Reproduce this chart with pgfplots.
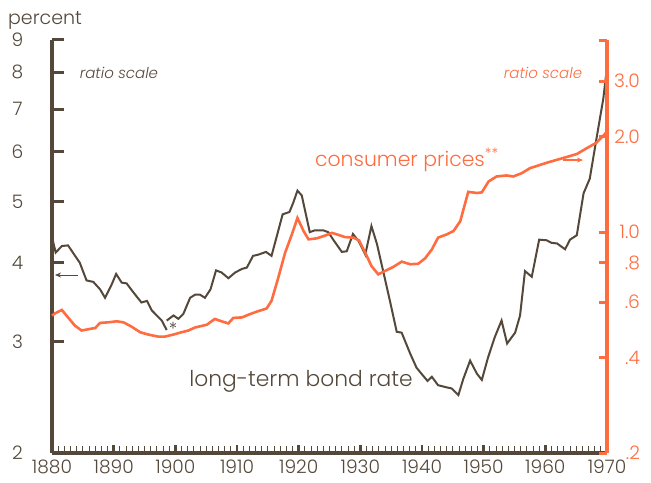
\documentclass[border=0pt]{standalone}
\usepackage{pgfplots}
\pgfplotsset{compat=1.18}
\usepackage{fontspec}
\setmainfont{Poppins}[UprightFont={* Light}, ItalicFont={* Light Italic}]
\usetikzlibrary{arrows.meta}
\definecolor{brn}{RGB}{84,72,58}
\definecolor{org}{RGB}{255,108,64}
\pgfplotsset{common/.style={scale only axis, width=277.5pt, height=206.5pt,
  xmin=1880, xmax=1970, /pgf/number format/assume math mode=true,
  tick label style={font=\fontsize{9.3}{10}\selectfont}}}
\pgfplotstableread{
yr v
1880.0 4.39
1880.6 4.15
1881.6 4.25
1882.6 4.26
1883.6 4.12
1884.5 4.00
1885.6 3.75
1886.7 3.73
1887.8 3.63
1888.6 3.52
1889.6 3.68
1890.4 3.84
1891.3 3.72
1892.1 3.71
1893.2 3.59
1894.5 3.46
1895.4 3.48
1896.2 3.36
1897.0 3.30
1897.8 3.24
1898.6 3.13
}\bondA
\pgfplotstableread{
yr v
1898.6 3.24
1899.7 3.30
1900.5 3.26
1901.3 3.32
1902.4 3.52
1903.2 3.56
1904.0 3.56
1904.8 3.52
1905.7 3.63
1906.6 3.89
1907.5 3.86
1908.6 3.78
1909.7 3.86
1910.8 3.91
1911.6 3.93
1912.6 4.10
1913.5 4.12
1914.7 4.16
1915.6 4.10
1917.4 4.77
1918.5 4.81
1919.1 4.97
1919.8 5.20
1920.5 5.11
1921.8 4.47
1922.6 4.50
1924.0 4.50
1924.8 4.47
1925.6 4.35
1927.0 4.16
1927.8 4.17
1928.8 4.44
1929.7 4.33
1930.8 4.12
1931.8 4.57
1932.7 4.28
1933.7 3.88
1934.8 3.48
1935.9 3.11
1936.7 3.10
1938.1 2.87
1939.1 2.73
1939.9 2.67
1940.9 2.60
1941.6 2.64
1942.6 2.56
1944.0 2.54
1944.8 2.53
1945.9 2.47
1946.7 2.62
1947.8 2.80
1948.9 2.67
1949.7 2.61
1950.7 2.83
1951.8 3.05
1952.9 3.24
1953.8 2.98
1955.1 3.10
1955.9 3.30
1956.7 3.88
1957.8 3.80
1959.0 4.35
1960.2 4.34
1961.0 4.30
1961.9 4.29
1963.2 4.20
1964.0 4.35
1965.1 4.42
1966.2 5.15
1967.2 5.43
1968.3 6.29
1969.4 7.27
1970.0 8.16
}\bondB
\pgfplotstableread{
yr v
1880.0 0.544
1880.5 0.553
1881.6 0.567
1882.6 0.537
1883.7 0.506
1884.8 0.488
1886.2 0.494
1887.0 0.497
1887.8 0.516
1889.1 0.518
1890.5 0.522
1891.6 0.518
1892.9 0.502
1894.3 0.482
1895.6 0.474
1897.2 0.467
1898.3 0.467
1899.7 0.474
1901.0 0.482
1902.1 0.488
1903.2 0.499
1905.1 0.509
1906.4 0.531
1907.5 0.522
1908.6 0.514
1909.4 0.535
1910.8 0.537
1912.1 0.550
1913.2 0.560
1914.8 0.573
1915.6 0.606
1916.7 0.718
1917.8 0.860
1918.9 0.983
1919.8 1.108
1920.8 1.007
1921.6 0.948
1922.9 0.955
1924.5 0.978
1925.4 0.994
1926.2 0.983
1927.5 0.964
1928.9 0.960
1929.8 0.941
1930.8 0.860
1931.8 0.781
1932.9 0.735
1934.0 0.753
1935.3 0.775
1936.7 0.806
1938.1 0.791
1939.4 0.794
1940.5 0.826
1941.6 0.881
1942.6 0.960
1944.0 0.983
1945.1 1.007
1946.2 1.082
1947.5 1.340
1948.9 1.329
1949.7 1.335
1950.8 1.446
1952.1 1.499
1953.7 1.510
1954.8 1.499
1956.2 1.536
1957.5 1.592
1960.2 1.656
1962.9 1.715
1965.1 1.765
1966.7 1.841
1968.3 1.918
1969.4 2.018
1970.0 2.077
}\cpi
\begin{document}
\begin{tikzpicture}
% x axis
\begin{axis}[common, ymin=1, ymax=2,
  axis x line*=bottom, axis y line=none,
  x axis line style={-, brn, line width=1.7pt},
  xtick={1880,1890,...,1970},
  xticklabels={1880,1890,1900,1910,1920,1930,1940,1950,1960,1970},
  minor x tick num=9, xtick align=inside,
  major tick length=4pt, minor tick length=3.5pt,
  x tick style={brn}, major x tick style={line width=1.2pt}, minor x tick style={line width=0.5pt},
  xticklabel style={brn}]
\end{axis}
% left axis, bond rate
\begin{axis}[common, ymode=log, ymin=2, ymax=9,
  axis x line=none, axis y line*=left,
  y axis line style={-, brn, line width=1.7pt},
  ytick={2,3,4,5,6,7,8,9}, yticklabels={2,3,4,5,6,7,8,9},
  ytick align=inside, major tick length=6pt, minor y tick num=0,
  y tick style={brn, line width=1.5pt},
  yticklabel style={brn, anchor=center, xshift=-17.25pt}]
\addplot[brn, line width=1pt, mark=none] table[x=yr, y=v] {\bondA};
\addplot[brn, line width=1pt, mark=none] table[x=yr, y=v] {\bondB};
\end{axis}
% right axis, consumer prices
\begin{axis}[common, ymode=log, ymin=0.2, ymax=4.05, clip=false,
  axis x line=none, axis y line*=right,
  y axis line style={-, org, line width=1.7pt},
  ytick={0.2,0.4,0.6,0.8,1,2,3,4.05}, yticklabels={.2,.4,.6,.8,1.0,2.0,3.0,{}},
  ytick align=inside, major tick length=4pt, minor y tick num=0,
  y tick style={org, line width=1.5pt},
  yticklabel style={org, anchor=east, xshift=20pt}]
\addplot[org, line width=1.3pt, mark=none] table[x=yr, y=v] {\cpi};
\coordinate (bbsw) at (rel axis cs:0,0);
\coordinate (bbne) at (rel axis cs:1,1);
\node[brn, font=\fontsize{9.5}{10}\selectfont] at (rel axis cs:-0.0126,1.048) {percent};
\node[brn, font=\fontsize{7.5}{8}\itshape] at (rel axis cs:0.1207,0.920) {ratio scale};
\node[org, font=\fontsize{7.5}{8}\itshape] at (rel axis cs:0.8847,0.920) {ratio scale};
\draw[brn, line width=0.5pt, -{Stealth[length=3pt,width=2.5pt]}] (rel axis cs:0.0468,0.431) -- (rel axis cs:0.0054,0.431);
\draw[org, line width=0.6pt, -{Stealth[length=3pt,width=2.5pt]}] (rel axis cs:0.9207,0.7094) -- (rel axis cs:0.9568,0.7094);
\node[brn, font=\fontsize{9}{9}\selectfont] at (rel axis cs:0.218,0.30) {*};
\node[brn, font=\fontsize{10.9}{11}\selectfont] at (rel axis cs:0.4486,0.1743) {long-term bond rate};
\node[org, font=\fontsize{10.2}{11}\selectfont] at (rel axis cs:0.640,0.7094) {consumer prices\textsuperscript{**}};
\end{axis}
\pgfresetboundingbox
\path[use as bounding box] ([shift={(-26pt,-14.5pt)}]bbsw) rectangle ([shift={(22pt,20pt)}]bbne);
\end{tikzpicture}
\end{document}
